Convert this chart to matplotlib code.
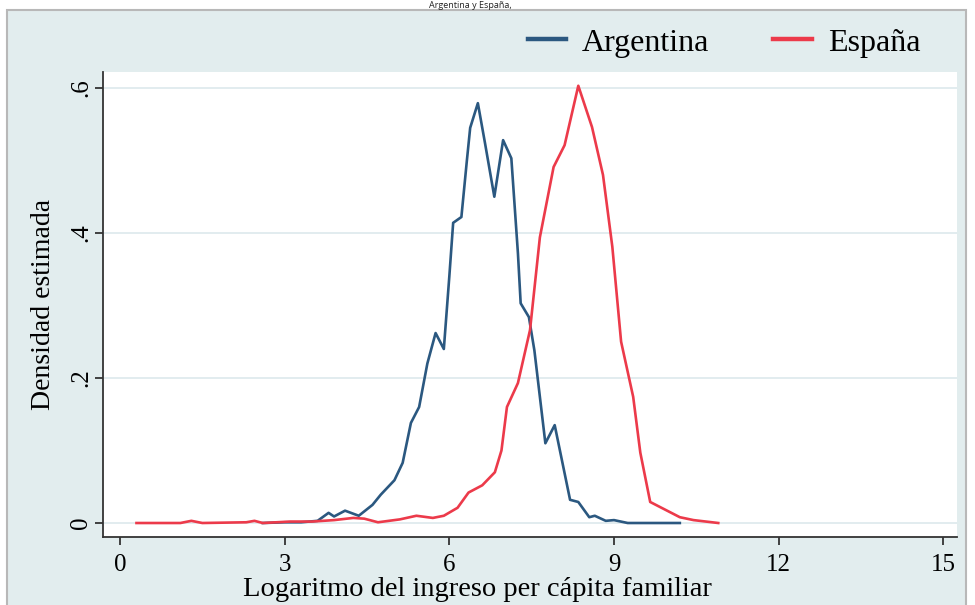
import matplotlib
matplotlib.use("Agg")
import matplotlib.pyplot as plt
from matplotlib.patches import Rectangle
from matplotlib.lines import Line2D

# ---- data ----
arg_x = [2.6, 3.0, 3.3, 3.6, 3.8, 3.9, 4.1, 4.35, 4.6, 4.75, 5.0, 5.15, 5.3, 5.45,
         5.6, 5.75, 5.9, 6.0, 6.07, 6.22, 6.32, 6.38, 6.52, 6.65, 6.82, 6.98, 7.13,
         7.25, 7.3, 7.45, 7.55, 7.75, 7.92, 8.2, 8.35, 8.55, 8.65, 8.85, 9.0, 9.25, 10.2]
arg_y = [0, 0.001, 0.001, 0.003, 0.014, 0.009, 0.017, 0.01, 0.025, 0.039, 0.059, 0.083,
         0.138, 0.16, 0.22, 0.262, 0.24, 0.34, 0.414, 0.422, 0.50, 0.545, 0.579, 0.524,
         0.45, 0.528, 0.503, 0.372, 0.303, 0.284, 0.238, 0.11, 0.135, 0.032, 0.029,
         0.008, 0.01, 0.003, 0.004, 0, 0]

esp_x = [0.3, 1.1, 1.3, 1.5, 2.3, 2.45, 2.6, 3.1, 3.5, 3.9, 4.25, 4.45, 4.7, 5.1, 5.4,
         5.7, 5.9, 6.15, 6.35, 6.6, 6.83, 6.95, 7.05, 7.25, 7.47, 7.65, 7.9, 8.1, 8.35,
         8.6, 8.8, 8.97, 9.13, 9.35, 9.48, 9.66, 10.2, 10.45, 10.9]
esp_y = [0, 0, 0.003, 0, 0.001, 0.003, 0, 0.002, 0.002, 0.004, 0.007, 0.006, 0.001,
         0.005, 0.01, 0.007, 0.01, 0.021, 0.042, 0.052, 0.07, 0.1, 0.16, 0.193, 0.266,
         0.394, 0.491, 0.521, 0.603, 0.546, 0.48, 0.381, 0.25, 0.174, 0.097, 0.029,
         0.008, 0.004, 0]

series_names = ["Argentina", "España"]
x_ticks = [0, 3, 6, 9, 12, 15]
y_ticks = [0, 0.2, 0.4, 0.6]
y_tick_labels = ["0", ".2", ".4", ".6"]
title_text = "Argentina y España,"
x_label = "Logaritmo del ingreso per cápita familiar"
y_label = "Densidad estimada"

ARG_COLOR = "#2b5880"
ESP_COLOR = "#ec3a4a"

# ---- figure ----
W, H = 975, 605
fig = plt.figure(figsize=(W / 100, H / 100), dpi=100)
fig.patch.set_facecolor("white")
fig.add_artist(Rectangle((7 / W, -0.01), (966 - 7) / W, (H - 10) / H + 0.01,
                         transform=fig.transFigure, facecolor="#e2edee",
                         edgecolor="#b8b8b8", lw=1.5, zorder=0))

fig.text(470 / W, 1 - 0.5 / H, title_text, ha="center", va="top",
         fontsize=6.5, family="Open Sans", color="#222222")

serif = "Liberation Serif"
ax = fig.add_axes([103 / W, (H - 537) / H, (957 - 103) / W, (537 - 72) / H])
ax.set_facecolor("white")
ax.set_xlim(-0.31, 15.25)
ax.set_ylim(-0.0193, 0.622)

ax.yaxis.grid(True, color="#dde9ec", lw=1.2)
ax.set_axisbelow(True)

ax.plot(arg_x, arg_y, color=ARG_COLOR, lw=1.9)
ax.plot(esp_x, esp_y, color=ESP_COLOR, lw=1.9)

for s in ["top", "right"]:
    ax.spines[s].set_visible(False)
for s in ["left", "bottom"]:
    ax.spines[s].set_color("#333333")
    ax.spines[s].set_linewidth(1.3)

ax.set_xticks(x_ticks)
ax.set_xticklabels([str(t) for t in x_ticks], family=serif, fontsize=18)
ax.set_yticks(y_ticks)
ax.set_yticklabels(y_tick_labels, family=serif, fontsize=18, rotation=90, va="center")
ax.tick_params(axis="x", direction="out", length=6, width=1.3, color="#333333", pad=6)
ax.tick_params(axis="y", direction="out", length=6, width=1.3, color="#333333", pad=2)

ax.set_xlabel(x_label, family=serif, fontsize=20.5)
ax.xaxis.set_label_coords((477 - 103) / (957 - 103), -0.085)
ax.set_ylabel(y_label, family=serif, fontsize=20, labelpad=10)

handles = [Line2D([], [], color=ARG_COLOR, lw=3.2), Line2D([], [], color=ESP_COLOR, lw=3.2)]
fig.legend(handles=handles, labels=series_names, loc="center right",
           bbox_to_anchor=(949 / W, 1 - 43 / H),
           ncol=2, frameon=False, prop={"family": serif, "size": 23},
           handlelength=1.2, handletextpad=0.5, columnspacing=2.0)

fig.savefig("out.png", dpi=100, facecolor=fig.get_facecolor())
